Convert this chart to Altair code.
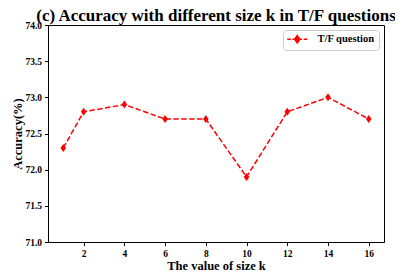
import altair as alt
import pandas as pd

k_values = [1, 2, 4, 6, 8, 10, 12, 14, 16]
accuracy = [72.3, 72.8, 72.9, 72.7, 72.7, 71.9, 72.8, 73.0, 72.7]
series = ["T/F question"] * len(k_values)
x_ticks = [2, 4, 6, 8, 10, 12, 14, 16]
y_ticks = [71.0, 71.5, 72.0, 72.5, 73.0, 73.5, 74.0]

df = pd.DataFrame({"k": k_values, "acc": accuracy, "series": series})

FONT = "Liberation Serif"
RED = "#ff0000"
diamond = "M0,-1L0.7,0L0,1L-0.7,0Z"
legend_symbol = "M-2.5,0H-1.6 M-1.2,0H-0.8 M0.8,0H1.2 M1.6,0H2.5 M0,-0.9L0.65,0L0,0.9L-0.65,0Z"

x = alt.X("k:Q", scale=alt.Scale(domain=[0.25, 16.75], nice=False, zero=False),
          axis=alt.Axis(values=x_ticks, title="The value of size k", format="d"))
y = alt.Y("acc:Q", scale=alt.Scale(domain=[71.0, 74.0], nice=False, zero=False),
          axis=alt.Axis(values=y_ticks, title="Accuracy(%)", format=".1f"))
color = alt.Color("series:N", scale=alt.Scale(range=[RED]),
                  legend=alt.Legend(title=None, orient="top-right", symbolType=legend_symbol,
                                    symbolSize=64, symbolFillColor=RED, symbolStrokeColor=RED,
                                    symbolStrokeWidth=1.5, symbolOffset=5, labelOffset=15))

line = alt.Chart(df).mark_line(strokeDash=[5.5, 2.4], strokeWidth=1.5).encode(x=x, y=y, color=color)
pts = alt.Chart(df).mark_point(shape=diamond, filled=True, size=64, opacity=1).encode(
    x=x, y=y, color=alt.Color("series:N", scale=alt.Scale(range=[RED]), legend=None))

chart = alt.layer(line, pts).properties(
    width=336, height=217,
    padding={"left": 40, "top": 17, "right": 11, "bottom": 30},
    autosize=alt.AutoSizeParams(type="none"),
    title=alt.Title("(c) Accuracy with different size k in T/F questions",
                    font=FONT, fontSize=17, fontWeight="bold", color="black",
                    anchor="middle", offset=6, dy=10.5),
).configure_view(stroke="black", strokeWidth=1).configure_title(
    font=FONT, fontWeight="bold",
).configure_axis(
    labelFont=FONT, labelFontSize=9.5, labelFontWeight="bold", labelColor="black",
    titleFont=FONT, titleFontSize=12.5, titleFontWeight="bold", titleColor="black",
    domainColor="black", tickColor="black", tickSize=3.5, grid=False, labelPadding=3,
).configure_axisY(titlePadding=0).configure_axisX(titlePadding=1).configure_legend(
    labelFont=FONT, labelFontSize=10.5, labelFontWeight="bold", labelColor="black",
    strokeColor="#cccccc", fillColor="white", cornerRadius=3, padding=4, offset=5,
)

chart.save("out.html", embed_options={"renderer": "svg", "actions": False})
